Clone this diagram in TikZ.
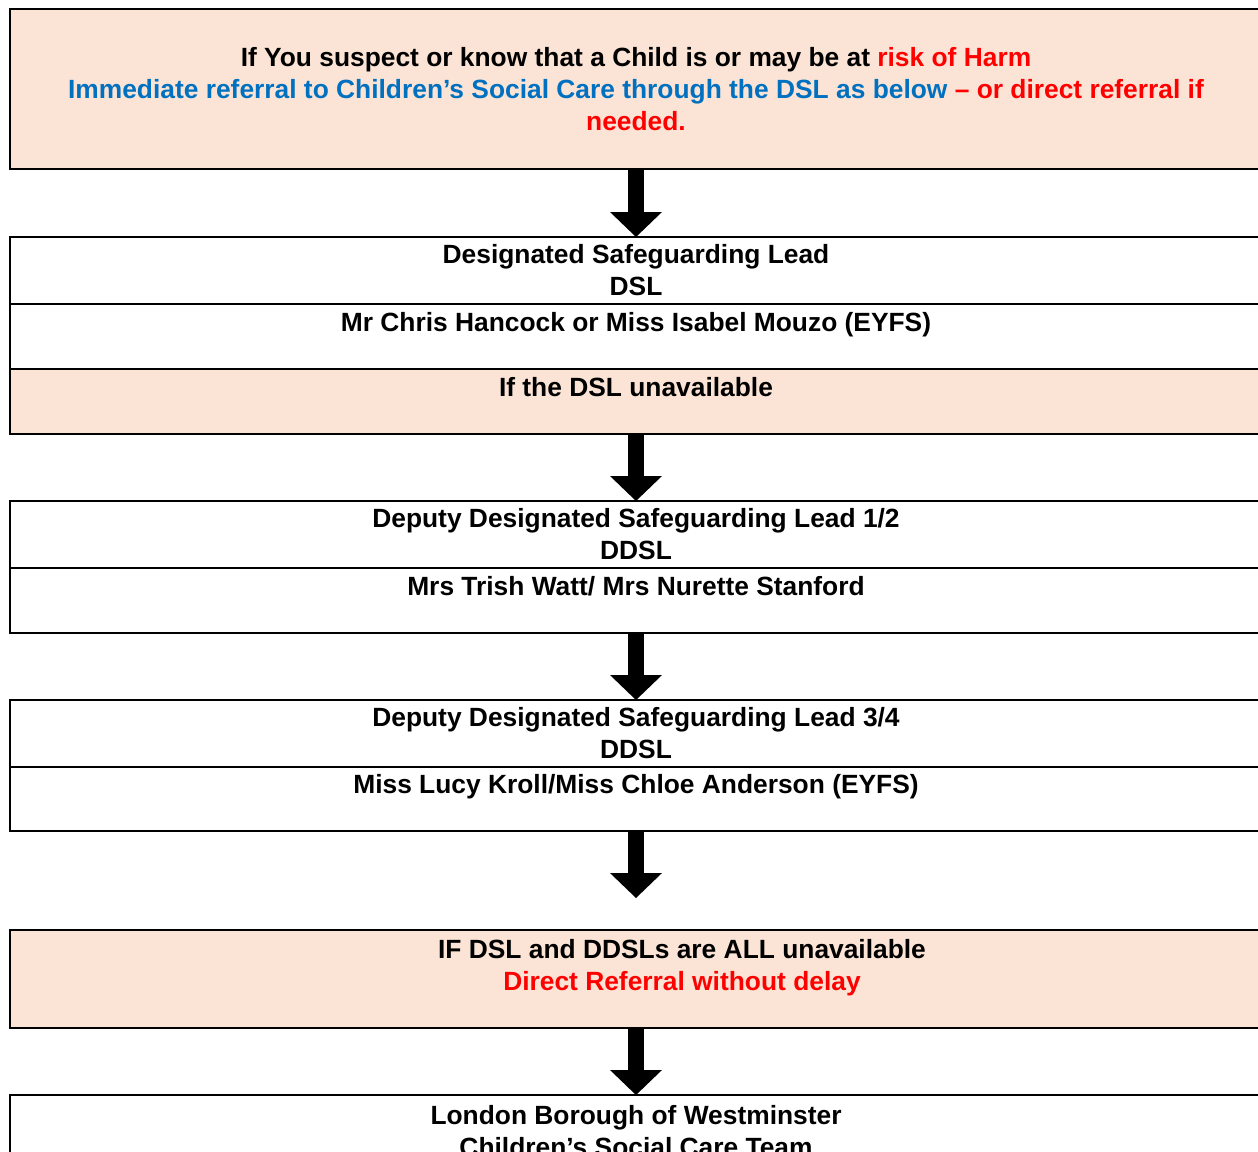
\documentclass[tikz,border=0pt]{standalone}
\usepackage{fontspec}
\setmainfont{Liberation Sans}
\usetikzlibrary{positioning,arrows.meta}
\definecolor{peach}{HTML}{FBE4D5}
\definecolor{alertred}{HTML}{FF0000}
\definecolor{careblue}{HTML}{0070C0}
\tikzset{
  row/.style={draw,line width=1.2pt,minimum width=25.04cm,inner sep=0pt,outer sep=0pt,
    align=center,font=\bfseries\fontsize{15}{18.2}\selectfont},
  shaded/.style={row,fill=peach},
  bigarrow/.style={line width=0.32cm,-{Triangle[width=1.04cm,length=0.5cm,line width=0pt]}},
}
\begin{document}
\begin{tikzpicture}
    \useasboundingbox (0,0) rectangle (25.16,-23.02);
    \clip (0,0) rectangle (25.16,-23.02);

    % first alert
    \node[shaded,minimum height=3.2cm,anchor=north west] (alert) at (0.2,-0.18)
        {If You suspect or know that a Child is or may be at \textcolor{alertred}{risk of Harm}\\
         \textcolor{careblue}{Immediate referral to Children’s Social Care through the DSL as below} \textcolor{alertred}{– or direct referral if}\\
         \textcolor{alertred}{needed.}};

    % DSL
    \node[row,minimum height=1.34cm,below=1.36cm of alert] (dsl) {Designated Safeguarding Lead\\DSL};
    \node[row,minimum height=1.3cm,below=0pt of dsl] (dslname) {Mr Chris Hancock or Miss Isabel Mouzo (EYFS)\\[-0.24cm] \strut};
    \node[shaded,minimum height=1.3cm,below=0pt of dslname] (nodsl) {If the DSL unavailable\\[-0.24cm] \strut};

    % deputies
    \node[row,minimum height=1.34cm,below=1.34cm of nodsl] (ddslA) {Deputy Designated Safeguarding Lead 1/2\\DDSL};
    \node[row,minimum height=1.3cm,below=0pt of ddslA] (ddslAname) {Mrs Trish Watt/ Mrs Nurette Stanford\\[-0.24cm] \strut};
    \node[row,minimum height=1.34cm,below=1.34cm of ddslAname] (ddslB) {Deputy Designated Safeguarding Lead 3/4\\DDSL};
    \node[row,minimum height=1.28cm,below=0pt of ddslB] (ddslBname) {Miss Lucy Kroll/Miss Chloe Anderson (EYFS)\\[-0.24cm] \strut};

    % nobody there
    \node[shaded,minimum height=1.96cm,below=1.98cm of ddslBname] (allout)
        {\hspace*{1.84cm}IF DSL and DDSLs are ALL unavailable\\
         \hspace*{1.84cm}\textcolor{alertred}{Direct Referral without delay}\\[-0.28cm] \strut};
    \node[row,minimum height=1.44cm,below=1.34cm of allout] (lbw) {London Borough of Westminster\\Children’s Social Care Team};

    \draw[bigarrow] (alert.south) -- (dsl.north);
    \draw[bigarrow] (nodsl.south) -- (ddslA.north);
    \draw[bigarrow] (ddslAname.south) -- (ddslB.north);
    \draw[bigarrow,shorten >=0.64cm] (ddslBname.south) -- (allout.north);
    \draw[bigarrow] (allout.south) -- (lbw.north);
\end{tikzpicture}
\end{document}
